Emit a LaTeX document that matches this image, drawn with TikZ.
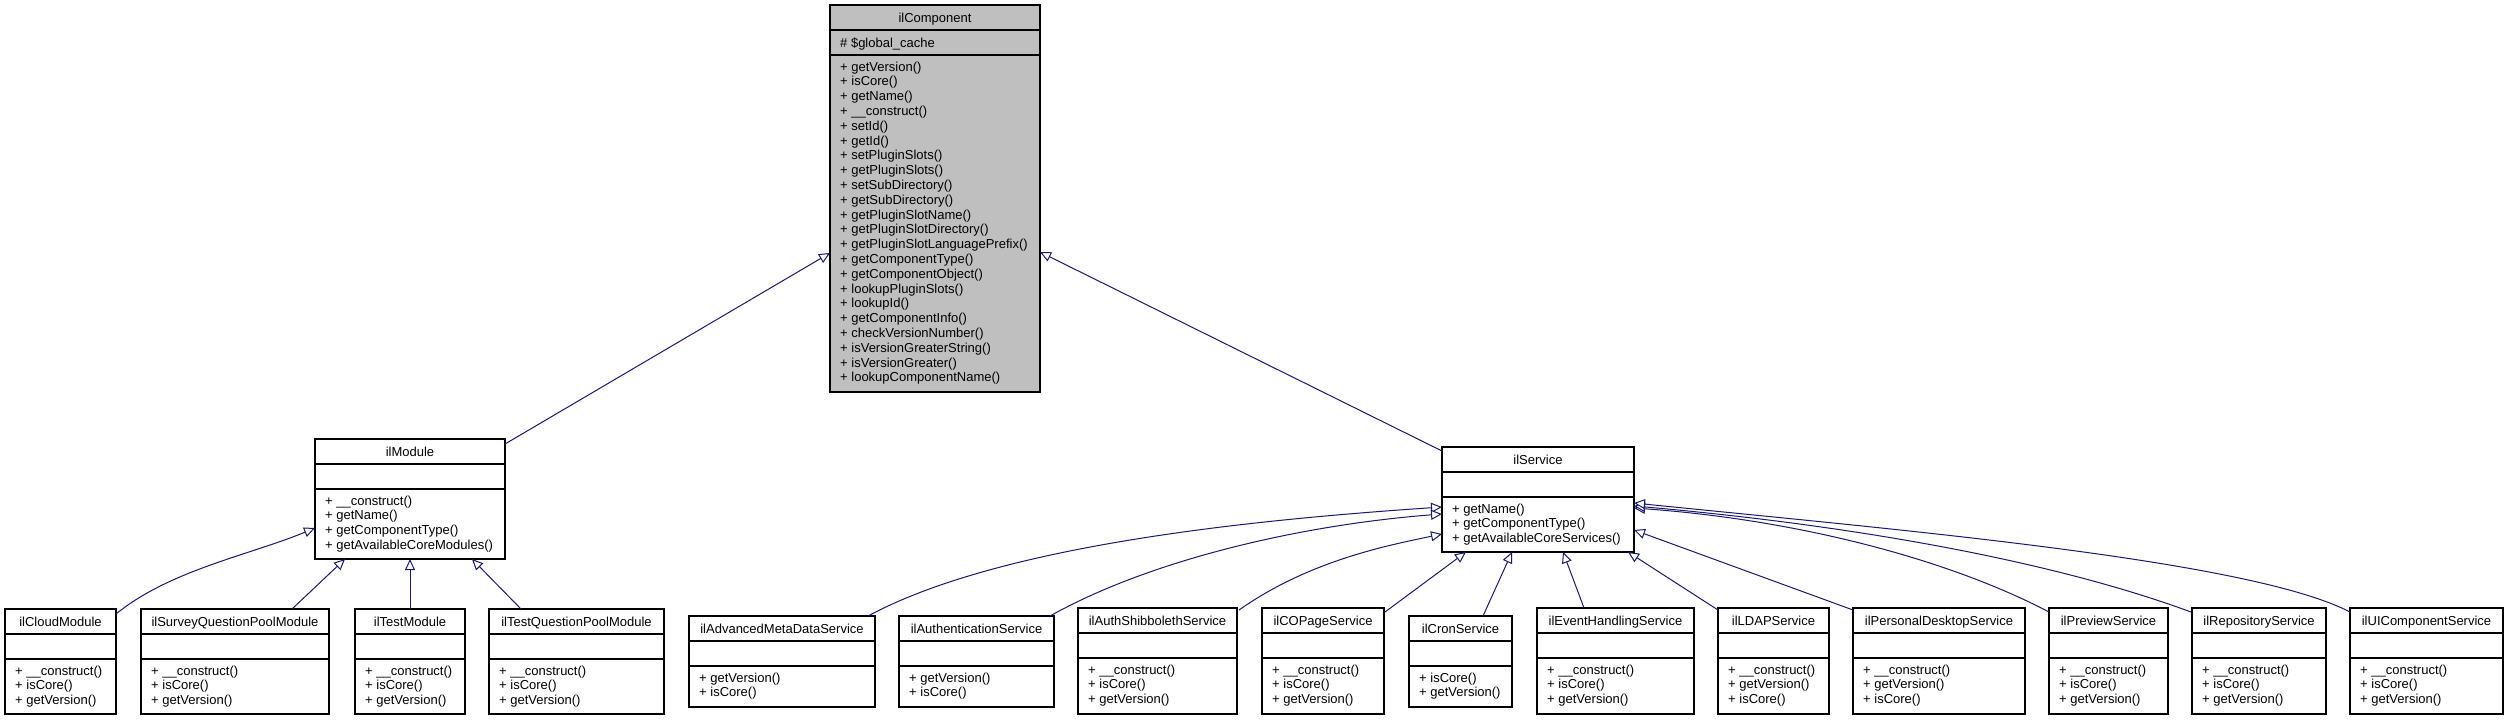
\documentclass[tikz,border=0pt]{standalone}
\usepackage{fontspec}
\setmainfont{Liberation Sans}
\usetikzlibrary{arrows.meta}
\definecolor{edgeblue}{HTML}{191970}
\definecolor{compgray}{HTML}{BFBFBF}
\tikzset{
  cls/.style={draw=black, line width=1.2pt, rectangle, inner sep=0pt, outer sep=0pt, anchor=north west},
  sep/.style={draw=black, line width=1.2pt},
  txt/.style={font=\fontsize{13}{15}\selectfont, inner sep=0pt},
  inh/.style={draw=edgeblue, line width=1pt, -{Triangle[open, length=11pt, width=10pt, fill=white]}}
}
\newcommand\umlcls[7][white]{%
  \node[cls, fill=#1, minimum width={(#5-#3)*1pt}, minimum height={(#6-#4)*1pt}] (#2) at (#3,#4) {};
  \draw[sep] (#3,{#4+25}) -- (#5,{#4+25});
  \draw[sep] (#3,{#4+50}) -- (#5,{#4+50});
  \node[txt, anchor=base] (#2-t) at ({(#3+#5)/2},{#4+17}) {#7};
  \foreach \m [count=\i] in {#7X} {}%
}
\newcommand\umlmem[4]{% id x1 y1 members
  \foreach \m [count=\i] in {#4} \node[txt, anchor=base west] at ({#2+10},{#3+50+16+14.8*(\i-1)}) {\m};
}
\begin{document}
\begin{tikzpicture}[x=1pt,y=-1pt]
\useasboundingbox[fill=white] (0,0) rectangle (2509,720);
% ilComponent
\umlcls[compgray]{comp}{830}{5}{1040}{392}{ilComponent}
\node[txt, anchor=base west] at (840,47) {\# \$global\_cache};
\umlmem{comp}{830}{5}{+ getVersion(),+ isCore(),+ getName(),+ \_\_construct(),+ setId(),+ getId(),+ setPluginSlots(),+ getPluginSlots(),+ setSubDirectory(),+ getSubDirectory(),+ getPluginSlotName(),+ getPluginSlotDirectory(),+ getPluginSlotLanguagePrefix(),+ getComponentType(),+ getComponentObject(),+ lookupPluginSlots(),+ lookupId(),+ getComponentInfo(),+ checkVersionNumber(),+ isVersionGreaterString(),+ isVersionGreater(),+ lookupComponentName()}
% ilModule
\umlcls{mod}{315}{439}{505}{559}{ilModule}
\umlmem{mod}{315}{439}{+ \_\_construct(),+ getName(),+ getComponentType(),+ getAvailableCoreModules()}
% ilService
\umlcls{svc}{1442}{447}{1634}{552}{ilService}
\umlmem{svc}{1442}{447}{+ getName(),+ getComponentType(),+ getAvailableCoreServices()}
% module children
\umlcls{cloud}{5}{609}{116}{714}{ilCloudModule}
\umlmem{cloud}{5}{609}{+ \_\_construct(),+ isCore(),+ getVersion()}
\umlcls{survey}{141}{609}{329}{714}{ilSurveyQuestionPoolModule}
\umlmem{survey}{141}{609}{+ \_\_construct(),+ isCore(),+ getVersion()}
\umlcls{test}{355}{609}{465}{714}{ilTestModule}
\umlmem{test}{355}{609}{+ \_\_construct(),+ isCore(),+ getVersion()}
\umlcls{tqp}{489}{609}{664}{714}{ilTestQuestionPoolModule}
\umlmem{tqp}{489}{609}{+ \_\_construct(),+ isCore(),+ getVersion()}
% service children
\umlcls{adv}{689}{616}{875}{707}{ilAdvancedMetaDataService}
\umlmem{adv}{689}{616}{+ getVersion(),+ isCore()}
\umlcls{auth}{899}{616}{1054}{707}{ilAuthenticationService}
\umlmem{auth}{899}{616}{+ getVersion(),+ isCore()}
\umlcls{shib}{1078}{608}{1237}{714}{ilAuthShibbolethService}
\umlmem{shib}{1078}{608}{+ \_\_construct(),+ isCore(),+ getVersion()}
\umlcls{copage}{1262}{608}{1384}{714}{ilCOPageService}
\umlmem{copage}{1262}{608}{+ \_\_construct(),+ isCore(),+ getVersion()}
\umlcls{cron}{1409}{616}{1512}{707}{ilCronService}
\umlmem{cron}{1409}{616}{+ isCore(),+ getVersion()}
\umlcls{event}{1537}{608}{1694}{714}{ilEventHandlingService}
\umlmem{event}{1537}{608}{+ \_\_construct(),+ isCore(),+ getVersion()}
\umlcls{ldap}{1718}{608}{1829}{714}{ilLDAPService}
\umlmem{ldap}{1718}{608}{+ \_\_construct(),+ getVersion(),+ isCore()}
\umlcls{pd}{1853}{608}{2025}{714}{ilPersonalDesktopService}
\umlmem{pd}{1853}{608}{+ \_\_construct(),+ getVersion(),+ isCore()}
\umlcls{prev}{2049}{608}{2168}{714}{ilPreviewService}
\umlmem{prev}{2049}{608}{+ \_\_construct(),+ isCore(),+ getVersion()}
\umlcls{repo}{2192}{608}{2326}{714}{ilRepositoryService}
\umlmem{repo}{2192}{608}{+ \_\_construct(),+ isCore(),+ getVersion()}
\umlcls{ui}{2350}{608}{2503}{714}{ilUIComponentService}
\umlmem{ui}{2350}{608}{+ \_\_construct(),+ isCore(),+ getVersion()}
% connector end points
\coordinate (compL) at (830,253);
\coordinate (compR) at (1040,252);
\coordinate (modTR) at (505,444);
\coordinate (svcTL) at (1442,451);
\coordinate (modL) at (315,528);
\coordinate (modB1) at (345,559);
\coordinate (modB2) at (410,559);
\coordinate (modB3) at (472,559);
\coordinate (cloudE) at (116,614);
\coordinate (surveyE) at (292,609);
\coordinate (testE) at (410,609);
\coordinate (tqpE) at (521,609);
\coordinate (svcL1) at (1442,507);
\coordinate (svcL2) at (1442,514);
\coordinate (svcL3) at (1442,534);
\coordinate (svcB1) at (1466,552);
\coordinate (svcB2) at (1512,552);
\coordinate (svcB3) at (1563,552);
\coordinate (svcB4) at (1628,552);
\coordinate (svcR1) at (1634,530);
\coordinate (svcR2) at (1634,508);
\coordinate (svcR3) at (1634,506);
\coordinate (svcR4) at (1634,503);
\coordinate (advE) at (868,616);
\coordinate (authE) at (1050,616);
\coordinate (shibE) at (1239,610);
\coordinate (copE) at (1385,612);
\coordinate (cronE) at (1483,616);
\coordinate (eventE) at (1584,608);
\coordinate (ldapE) at (1718,610);
\coordinate (pdE) at (1853,610);
\coordinate (prevE) at (2049,612);
\coordinate (repoE) at (2191,612);
\coordinate (uiE) at (2350,612);
% connectors
\draw[inh] (modTR) -- (compL);
\draw[inh] (svcTL) -- (compR);
\draw[inh] (cloudE) .. controls (170,570) and (250,555) .. (modL);
\draw[inh] (surveyE) -- (modB1);
\draw[inh] (testE) -- (modB2);
\draw[inh] (tqpE) -- (modB3);
\draw[inh] (advE) .. controls (1000,545) and (1250,520) .. (svcL1);
\draw[inh] (authE) .. controls (1150,560) and (1300,525) .. (svcL2);
\draw[inh] (shibE) .. controls (1310,560) and (1390,545) .. (svcL3);
\draw[inh] (copE) -- (svcB1);
\draw[inh] (cronE) -- (svcB2);
\draw[inh] (eventE) -- (svcB3);
\draw[inh] (ldapE) -- (svcB4);
\draw[inh] (pdE) -- (svcR1);
\draw[inh] (prevE) .. controls (1950,560) and (1800,520) .. (svcR2);
\draw[inh] (repoE) .. controls (2050,560) and (1850,525) .. (svcR3);
\draw[inh] (uiE) .. controls (2250,560) and (1900,530) .. (svcR4);
\end{tikzpicture}
\end{document}
